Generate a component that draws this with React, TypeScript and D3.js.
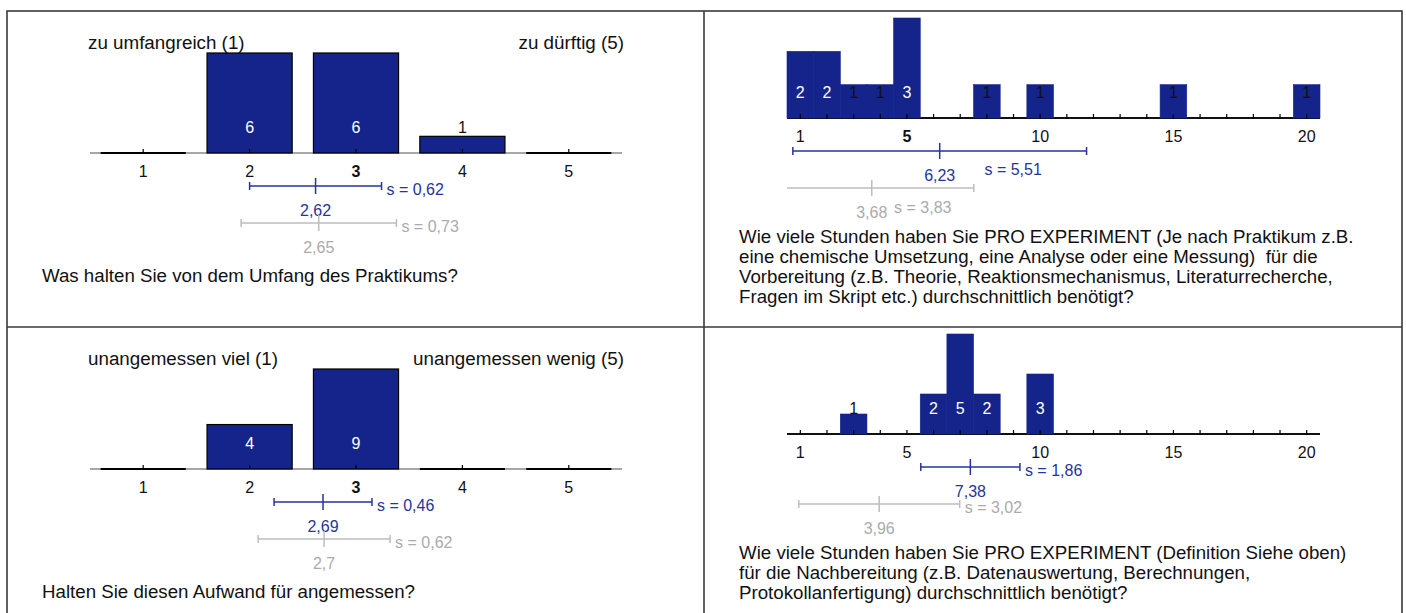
import React from "react";
import * as d3 from "d3";

// ---------- data ----------
const ratingCats = [1, 2, 3, 4, 5];
const ratingTicks = [1, 2, 3, 4, 5];
const umfangCounts = [0, 6, 6, 1, 0];
const aufwandCounts = [0, 4, 9, 0, 0];

const hourCats = [1, 2, 3, 4, 5, 6, 7, 8, 9, 10, 11, 12, 13, 14, 15, 16, 17, 18, 19, 20];
const hourTicks = [1, 5, 10, 15, 20];
const vorbereitungCounts = [2, 2, 1, 1, 3, 0, 0, 1, 0, 1, 0, 0, 0, 0, 1, 0, 0, 0, 0, 1];
const nachbereitungCounts = [0, 0, 1, 0, 0, 2, 5, 2, 0, 3, 0, 0, 0, 0, 0, 0, 0, 0, 0, 0];

// panel order: top-left, top-right, bottom-left, bottom-right
const ownMeans = [2.62, 6.23, 2.69, 7.38];
const ownSds = [0.62, 5.51, 0.46, 1.86];
const refMeans = [2.65, 3.68, 2.7, 3.96];
const refSds = [0.73, 3.83, 0.62, 3.02];

const leftLabels = ["zu umfangreich (1)", "", "unangemessen viel (1)", ""];
const rightLabels = ["zu dürftig (5)", "", "unangemessen wenig (5)", ""];

const questionsTL = ["Was halten Sie von dem Umfang des Praktikums?"];
const questionsTR = [
  "Wie viele Stunden haben Sie PRO EXPERIMENT (Je nach Praktikum z.B.",
  "eine chemische Umsetzung, eine Analyse oder eine Messung)  für die",
  "Vorbereitung (z.B. Theorie, Reaktionsmechanismus, Literaturrecherche,",
  "Fragen im Skript etc.) durchschnittlich benötigt?",
];
const questionsBL = ["Halten Sie diesen Aufwand für angemessen?"];
const questionsBR = [
  "Wie viele Stunden haben Sie PRO EXPERIMENT (Definition Siehe oben)",
  "für die Nachbereitung (z.B. Datenauswertung, Berechnungen,",
  "Protokollanfertigung) durchschnittlich benötigt?",
];

// ---------- style ----------
const FONT = "'Liberation Sans', Arial, Helvetica, sans-serif";
const COL = {
  bar: "#15248A",
  blue: "#26359A",
  grey: "#BDBDBD",
  greyText: "#ABABAB",
  border: "#3A3A3A",
};

const fmt = (v: number) => String(+v.toFixed(2)).replace(".", ",");

function median(cats: number[], counts: number[]) {
  const all: number[] = [];
  cats.forEach((c, i) => {
    for (let k = 0; k < counts[i]; k++) all.push(c);
  });
  return d3.median(all) as number;
}

type PanelProps = {
  px: number;
  py: number;
  pw: number;
  kind: "rating" | "hours";
  cats: number[];
  counts: number[];
  ticks: number[];
  idx: number;
  question: string[];
  stackedS?: boolean;
};

function ErrorBar({
  x, mean, sd, y, color, textColor, lo, hi, stacked, sY, mY,
}: any) {
  const a = mean - sd;
  const b = mean + sd;
  const ca = Math.max(a, lo);
  const cb = Math.min(b, hi);
  return (
    <g>
      <line x1={x(ca)} x2={x(cb)} y1={y} y2={y} stroke={color} strokeWidth={1.5} />
      {a >= lo && <line x1={x(a)} x2={x(a)} y1={y - 4} y2={y + 4} stroke={color} strokeWidth={1.5} />}
      {b <= hi && <line x1={x(b)} x2={x(b)} y1={y - 4} y2={y + 4} stroke={color} strokeWidth={1.5} />}
      <line x1={x(mean)} x2={x(mean)} y1={y - 8} y2={y + 8} stroke={color} strokeWidth={1.5} />
      {stacked ? (
        <text x={x(mean + sd / 2)} y={sY} textAnchor="middle" fontSize={16} fill={textColor}>
          {"s = " + fmt(sd)}
        </text>
      ) : (
        <text x={x(b) + 5} y={sY} fontSize={16} fill={textColor}>
          {"s = " + fmt(sd)}
        </text>
      )}
      <text x={x(mean)} y={mY} textAnchor="middle" fontSize={16} fill={textColor}>
        {fmt(mean)}
      </text>
    </g>
  );
}

function Panel({ px, py, pw, kind, cats, counts, ticks, idx, question, stackedS }: PanelProps) {
  const isRating = kind === "rating";
  const A = py + (isRating ? 142 : 107);
  const lo = cats[0] - 0.5;
  const hi = cats[cats.length - 1] + 0.5;
  const x = d3.scaleLinear().domain([lo, hi]).range([px + 83, px + pw - 82]);
  const step = x(1) - x(0);
  const bw = isRating ? step * 0.8 : step;
  const maxC = d3.max(counts) as number;
  const y = d3.scaleLinear().domain([0, maxC]).range([0, 100]);
  const med = median(cats, counts);

  return (
    <g fontFamily={FONT}>
      {leftLabels[idx] && (
        <text x={x(lo) - 2} y={A - 104} fontSize={18.8} fill="#111">
          {leftLabels[idx]}
        </text>
      )}
      {rightLabels[idx] && (
        <text x={x(hi) + 2} y={A - 104} fontSize={18.8} fill="#111" textAnchor="end">
          {rightLabels[idx]}
        </text>
      )}
      {/* axis */}
      <line x1={x(lo)} x2={x(hi)} y1={A} y2={A} stroke={isRating ? "#8a8a8a" : "#111"} strokeWidth={isRating ? 1.5 : 2} />
      {/* bars */}
      {cats.map((c, i) => {
        const h = y(counts[i]);
        if (counts[i] === 0) {
          return isRating ? (
            <line key={"b" + c} x1={x(c) - bw / 2} x2={x(c) + bw / 2} y1={A} y2={A} stroke="#000" strokeWidth={2} />
          ) : null;
        }
        return (
          <rect
            key={"b" + c}
            x={x(c) - bw / 2}
            y={A - h}
            width={bw}
            height={h}
            fill={COL.bar}
            stroke={isRating ? "#000" : COL.bar}
            strokeWidth={isRating ? 1.2 : 0.6}
          />
        );
      })}
      {/* tick marks */}
      {cats.map((c) => (
        <line key={"t" + c} x1={x(c)} x2={x(c)} y1={A - 4} y2={A + (isRating ? 0 : 1)} stroke="#000" strokeWidth={1.2} />
      ))}
      {/* bar value labels */}
      {cats.map((c, i) =>
        counts[i] > 0 ? (
          <text
            key={"v" + c}
            x={x(c)}
            y={A - 20}
            textAnchor="middle"
            fontSize={16}
            fill={counts[i] / maxC < 0.35 ? "#111" : "#fff"}
          >
            {counts[i]}
          </text>
        ) : null
      )}
      {/* tick labels */}
      {ticks.map((t) => (
        <text
          key={"l" + t}
          x={x(t)}
          y={A + 24}
          textAnchor="middle"
          fontSize={16}
          fontWeight={t === med ? "bold" : "normal"}
          fill="#111"
        >
          {t}
        </text>
      ))}
      <ErrorBar
        x={x}
        mean={ownMeans[idx]}
        sd={ownSds[idx]}
        y={A + 33}
        color={COL.blue}
        textColor={COL.blue}
        lo={lo}
        hi={hi}
        stacked={stackedS}
        sY={stackedS ? A + 57 : A + 42}
        mY={A + 63}
      />
      <ErrorBar
        x={x}
        mean={refMeans[idx]}
        sd={refSds[idx]}
        y={A + 70}
        color={COL.grey}
        textColor={COL.greyText}
        lo={lo}
        hi={hi}
        stacked={stackedS}
        sY={stackedS ? A + 95 : A + 79}
        mY={A + 100}
      />
      {question.map((q, i) => (
        <text key={"q" + i} x={px + 35} y={A + (isRating ? 129 : 125) + i * 20} fontSize={18.7} fill="#111" style={{ whiteSpace: "pre" }}>
          {q}
        </text>
      ))}
    </g>
  );
}

export default function App() {
  const X0 = 7, XM = 704, X1 = 1402;
  const Y0 = 11, YM = 327, Y1 = 614;
  return (
    <svg
      width={1406}
      height={613}
      style={{ position: "absolute", left: 0, top: 0, background: "#fff" }}
    >
      <rect x={0} y={0} width={1406} height={613} fill="#fff" />
      <Panel px={X0} py={Y0} pw={XM - X0} kind="rating" cats={ratingCats} counts={umfangCounts} ticks={ratingTicks} idx={0} question={questionsTL} />
      <Panel px={XM} py={Y0} pw={X1 - XM} kind="hours" cats={hourCats} counts={vorbereitungCounts} ticks={hourTicks} idx={1} question={questionsTR} stackedS />
      <Panel px={X0} py={YM} pw={XM - X0} kind="rating" cats={ratingCats} counts={aufwandCounts} ticks={ratingTicks} idx={2} question={questionsBL} />
      <Panel px={XM} py={YM} pw={X1 - XM} kind="hours" cats={hourCats} counts={nachbereitungCounts} ticks={hourTicks} idx={3} question={questionsBR} />
      {/* frame */}
      <rect x={X0} y={Y0} width={X1 - X0} height={Y1 - Y0} fill="none" stroke={COL.border} strokeWidth={1.6} />
      <line x1={XM} x2={XM} y1={Y0} y2={Y1} stroke={COL.border} strokeWidth={1.6} />
      <line x1={X0} x2={X1} y1={YM} y2={YM} stroke={COL.border} strokeWidth={1.6} />
    </svg>
  );
}
